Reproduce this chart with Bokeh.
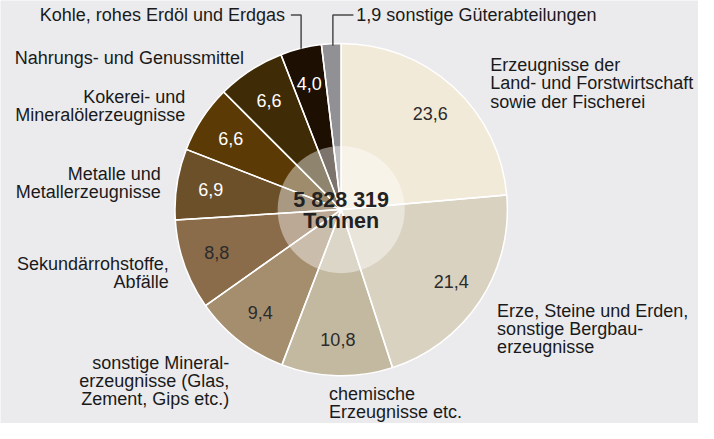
import math
from bokeh.plotting import figure
from bokeh.models import Range1d, ColumnDataSource
from bokeh.core.properties import value
from bokeh.embed import file_html
from bokeh.resources import INLINE

# ---------------- data ----------------
categories = [
    "Erzeugnisse der\nLand- und Forstwirtschaft\nsowie der Fischerei",
    "Erze, Steine und Erden,\nsonstige Bergbau-\nerzeugnisse",
    "chemische\nErzeugnisse etc.",
    "sonstige Mineral-\nerzeugnisse (Glas,\nZement, Gips etc.)",
    "Sekundärrohstoffe,\nAbfälle",
    "Metalle und\nMetallerzeugnisse",
    "Kokerei- und\nMineralölerzeugnisse",
    "Nahrungs- und Genussmittel",
    "Kohle, rohes Erdöl und Erdgas",
    "sonstige Güterabteilungen",
]
values = [23.6, 21.4, 10.8, 9.4, 8.8, 6.9, 6.6, 6.6, 4.0, 1.9]
total_text = ["5 828 319", "Tonnen"]

# ---------------- styles ----------------
colors = ["#f2ead8", "#d9d2c0", "#c3b9a1", "#a58e6e", "#8a6b4a",
          "#6b5029", "#5b3a05", "#3f2b05", "#1e0f03", "#909095"]
value_colors = ["#2b2b2b"] * 5 + ["#ffffff"] * 4 + [None]
BG = "#ebebee"
FONT = "Liberation Sans"
W, H = 698, 423          # figure size in pixels
VW, VH = 714, 439        # layout space

def Y(py):
    return VH - py

cx, cy = 348.5, Y(217)
R = 170
R_LABEL = 135
LINE = 19

p = figure(width=W, height=H, output_backend="svg", toolbar_location=None,
           x_range=Range1d(0, VW), y_range=Range1d(0, VH),
           min_border=0, border_fill_color=BG, background_fill_color=BG,
           outline_line_color=None)
p.axis.visible = False
p.grid.visible = False

total = sum(values)
starts, ends, mids = [], [], []
acc = 0.0
for v in values:
    s = acc / total
    acc += v
    e = acc / total
    starts.append(math.pi / 2 - 2 * math.pi * s)
    ends.append(math.pi / 2 - 2 * math.pi * e)
    mids.append(math.pi / 2 - 2 * math.pi * (s + e) / 2)

src = ColumnDataSource(dict(x=[cx] * len(values), y=[cy] * len(values),
                            start=starts, end=ends, color=colors))
p.wedge(x="x", y="y", radius=R, start_angle="start", end_angle="end",
        direction="clock", fill_color="color", line_color=None, source=src)

# inner translucent circle
p.circle(x=[cx], y=[cy], radius=65, fill_color="white", fill_alpha=0.42,
         line_color=None)

# white separators on top
p.wedge(x="x", y="y", radius=R, start_angle="start", end_angle="end",
        direction="clock", fill_color=None, line_color="white",
        line_width=1.5, source=src)

# value labels
vx, vy, vt, vc = [], [], [], []
for v, m, c in zip(values, mids, value_colors):
    if c is None:
        continue
    vx.append(cx + R_LABEL * math.cos(m))
    vy.append(cy + R_LABEL * math.sin(m))
    vt.append(f"{v:.1f}".replace(".", ","))
    vc.append(c)
p.text(x=vx, y=vy, text=vt, text_color=vc, text_align="center",
       text_baseline="middle", text_font=value(FONT),
       text_font_size="18px")

# center total
p.text(x=[cx, cx], y=[Y(207), Y(229)], text=total_text, text_color="#222222",
       text_align="center", text_baseline="middle", text_font=value(FONT),
       text_font_size="21.5px", text_font_style="bold")

# category labels: (x, y of first line, align)
label_pos = [
    (501, 67, "left"),
    (508, 322, "left"),
    (336, 408, "left"),
    (234, 376, "right"),
    (172, 273, "right"),
    (164, 180, "right"),
    (189, 100, "right"),
    (249, 60, "right"),
    (291, 15, "right"),
    (364, 15, "left"),
]
lx, ly, lt, la = [], [], [], []
for i, (cat, (x0, y0, al)) in enumerate(zip(categories, label_pos)):
    txt = cat
    if i == len(categories) - 1:
        txt = f"{values[i]:.1f}".replace(".", ",") + " " + cat
    for k, line in enumerate(txt.split("\n")):
        lx.append(x0)
        ly.append(Y(y0 + k * LINE))
        lt.append(line)
        la.append(al)
lsrc = ColumnDataSource(dict(x=lx, y=ly, text=lt, align=la))
p.text(x="x", y="y", text="text", text_align="align", source=lsrc,
       text_baseline="middle", text_color="#1a1a1a", text_font=value(FONT),
       text_font_size="18px")

# leader lines for the two small slices
p.line(x=[297, 307.5, 307.5], y=[Y(15), Y(15), Y(50)], line_color="#4a4a4a",
       line_width=1.5)
p.line(x=[361, 340, 340], y=[Y(15), Y(15), Y(47)], line_color="#4a4a4a",
       line_width=1.5)

open("out.html", "w").write(file_html(p, INLINE))
